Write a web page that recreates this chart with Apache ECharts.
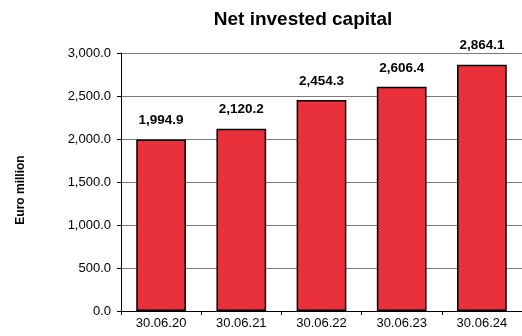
<!DOCTYPE html>
<html><head><meta charset="utf-8">
<script src="https://cdn.jsdelivr.net/npm/echarts@6/dist/echarts.min.js"></script>
<style>html,body{margin:0;padding:0;background:#fff}#c{width:522px;height:336px}</style>
</head><body><div id="c"></div>
<script>
const categories = ['30.06.20','30.06.21','30.06.22','30.06.23','30.06.24'];
const values = [1994.9, 2120.2, 2454.3, 2606.4, 2864.1];
const yTicks = [0, 500, 3000];
const title = 'Net invested capital';
const yName = 'Euro million';
const fmt = v => v.toLocaleString('en-US',{minimumFractionDigits:1,maximumFractionDigits:1});
const chart = echarts.init(document.getElementById('c'));
chart.setOption({
  animation:false,
  title:{text:title,left:298,textAlign:'center',top:5,textStyle:{fontFamily:'Liberation Sans',fontSize:19,fontWeight:'bold',color:'#000'}},
  grid:{left:121,right:-7,top:53,bottom:25,containLabel:false},
  xAxis:{type:'category',data:categories,
    axisLine:{lineStyle:{color:'#000',width:1}},
    axisTick:{show:true,length:4,lineStyle:{color:'#000'}},
    axisLabel:{fontFamily:'Liberation Sans',fontSize:13,color:'#000',margin:6}},
  yAxis:{type:'value',min:yTicks[0],max:yTicks[2],interval:yTicks[1],
    name:yName,nameLocation:'middle',nameGap:94,nameRotate:90,
    nameTextStyle:{fontFamily:'Liberation Sans',fontSize:12,fontWeight:'bold',color:'#000',padding:[0,16,0,0]},
    axisLine:{show:true,lineStyle:{color:'#000'}},
    axisTick:{show:true,length:4,lineStyle:{color:'#000'}},
    splitLine:{lineStyle:{color:'#7a7a7a',width:1.2}},
    axisLabel:{fontFamily:'Liberation Sans',fontSize:13,color:'#000',margin:10,formatter:v=>fmt(v)}},
  series:[{type:'bar',data:values,barWidth:'62%',
    itemStyle:{color:'#E8313A',borderColor:'#000',borderWidth:1.5},
    label:{show:true,position:'top',distance:12,formatter:p=>fmt(p.value),
      fontFamily:'Liberation Sans',fontSize:13.5,fontWeight:'bold',color:'#000'}}]
});
</script></body></html>
